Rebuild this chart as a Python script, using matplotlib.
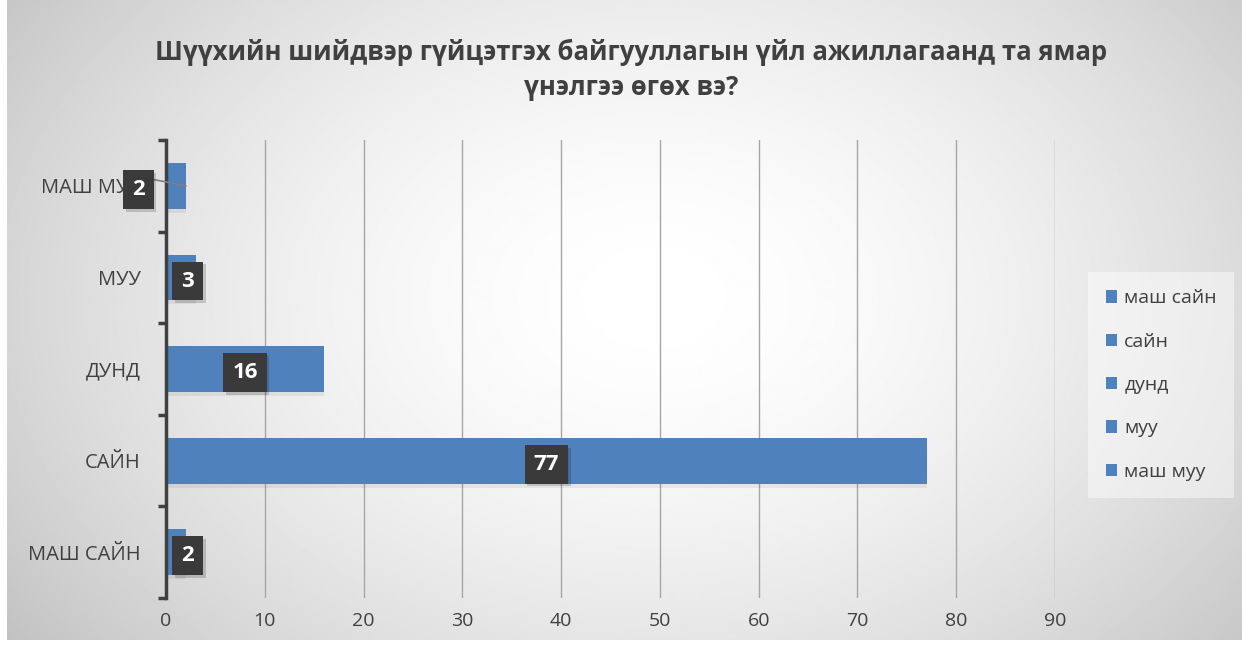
import numpy as np
import matplotlib
matplotlib.use("Agg")
import matplotlib.pyplot as plt
from matplotlib.patches import Patch
import matplotlib.patheffects as pe

plt.rcParams['font.family'] = ['Open Sans', 'DejaVu Sans']

# survey answers, bottom to top
categories = ["МАШ САЙН", "САЙН", "ДУНД", "МУУ", "МАШ МУУ"]
counts = [2, 77, 16, 3, 2]
legend_labels = ["маш сайн", "сайн", "дунд", "муу", "маш муу"]
xticks = [0, 10, 20, 30, 40, 50, 60, 70, 80, 90]
title = "Шүүхийн шийдвэр гүйцэтгэх байгууллагын үйл ажиллагаанд та ямар\nүнэлгээ өгөх вэ?"

bar_color = "#4F81BD"
text_color = "#404040"

W, H = 1242, 647
fig = plt.figure(figsize=(W / 100, H / 100), dpi=100)

# radial grey-to-white background
bg = fig.add_axes([7 / W, 7 / H, 1 - 7 / W, 1 - 7 / H])
yy, xx = np.mgrid[0:H, 0:W]
r = np.sqrt(((xx - 650) / (W * 0.62)) ** 2 + ((yy - 300) / (H * 0.85)) ** 2)
shade = 1 - 0.22 * np.clip(r, 0, 1.2) ** 1.7
bg.imshow(shade, cmap="gray", vmin=0, vmax=1, aspect="auto")
bg.axis("off")

ax = fig.add_axes([166 / W, 1 - 598 / H, (1055 - 166) / W, (598 - 140) / H])
ax.patch.set_alpha(0)

y = np.arange(len(categories))
bars = ax.barh(y, counts, height=0.5, color=bar_color, zorder=3)
for b in bars:
    b.set_path_effects([pe.SimplePatchShadow(offset=(0, -3), shadow_rgbFace="#000000", alpha=0.06),
                        pe.Normal()])

ax.set_xlim(0, 90)
ax.set_ylim(-0.5, len(categories) - 0.5)
ax.set_xticks(xticks)
ax.set_xticklabels([str(t) for t in xticks], fontsize=14, color=text_color)
ax.set_yticks(y)
ax.set_yticklabels(categories, fontsize=14.5, color=text_color)
ax.set_yticks(np.arange(-0.5, len(categories)), minor=True)
ax.tick_params(axis="y", which="major", length=0, pad=18)
ax.tick_params(axis="y", which="minor", length=6, width=2.5, color=text_color, direction="out")
ax.tick_params(axis="x", length=0, pad=10)
ax.grid(axis="x", color="#a6a6a6", linewidth=1, zorder=0)
for s in ["top", "right", "bottom"]:
    ax.spines[s].set_visible(False)
ax.spines["left"].set_linewidth(2.5)
ax.spines["left"].set_color(text_color)
ax.spines["left"].set_zorder(4)

box = dict(boxstyle="square,pad=0.4", fc="#3a3a3a", ec="none")
shadow = [pe.withSimplePatchShadow(offset=(2, -2), alpha=0.18)]
for i, v in enumerate(counts):
    if categories[i] == "МАШ МУУ":
        # this label sits left of the axis with a leader line to its bar
        lx = -2.8
        ax.plot([lx + 1.0, v], [i + 0.08, 0.0 + i], color="#7f7f7f", lw=1.2, zorder=5, clip_on=False)
    else:
        lx = max(v / 2, 2.2)
    t = ax.text(lx, i - 0.04, str(v), ha="center", va="center", fontsize=16, fontweight="bold",
                color="white", bbox=box, zorder=6, clip_on=False)
    t.get_bbox_patch().set_path_effects(shadow)

fig.text(0.508, 1 - 70 / H, title, ha="center", va="center", fontsize=18.5, fontweight="bold",
         color="#404040", linespacing=1.4)

handles = [Patch(facecolor=bar_color) for _ in legend_labels]
leg = fig.legend(handles, legend_labels, loc="center left", bbox_to_anchor=(1094 / W, 1 - 385 / H),
                 fontsize=14, frameon=True, labelspacing=1.3, handlelength=0.6, handleheight=0.6,
                 handletextpad=0.35, borderpad=0.6, borderaxespad=0)
leg.get_frame().set_facecolor("white")
leg.get_frame().set_alpha(0.45)
leg.get_frame().set_edgecolor("none")
leg.get_frame().set_boxstyle("square")
for txt in leg.get_texts():
    txt.set_color(text_color)

fig.savefig("out.png", dpi=100)
